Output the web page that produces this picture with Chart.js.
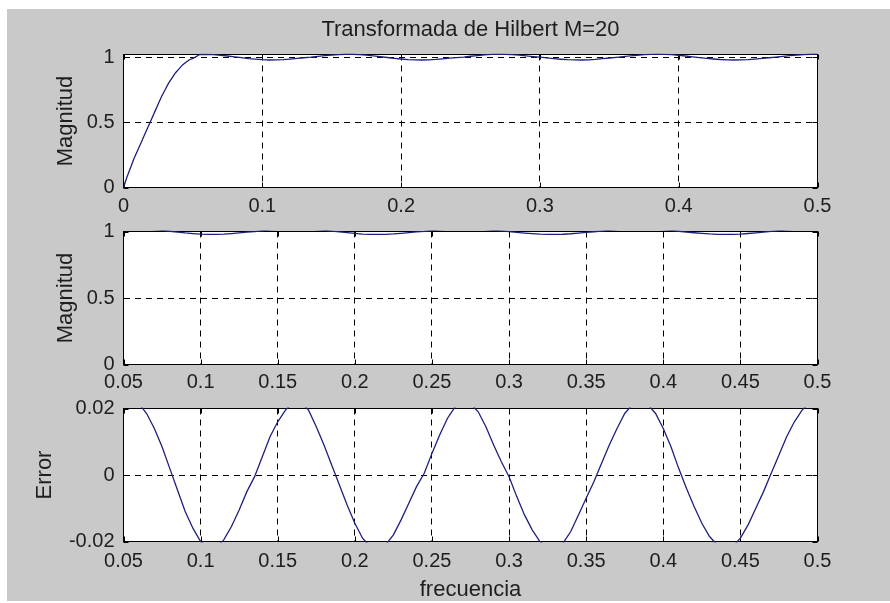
<!DOCTYPE html>
<html><head><meta charset="utf-8">
<script src="https://cdn.jsdelivr.net/npm/chart.js@4.4.1/dist/chart.umd.min.js"></script>
<style>
html,body{margin:0;padding:0;background:#fff;}
#wrap{position:relative;width:890px;height:603px;overflow:hidden;}
#bg{position:absolute;left:7px;top:9px;width:883px;height:592px;background:#c9c9c9;}
canvas{position:absolute;left:0;}
</style></head><body>
<div id="wrap"><div id="bg"></div>
<canvas id="c1" style="top:0px" width="890" height="225"></canvas>
<canvas id="c2" style="top:205px" width="890" height="195"></canvas>
<canvas id="c3" style="top:385px" width="890" height="218"></canvas>
</div>
<script>
// ---- data ----
const titleText = 'Transformada de Hilbert M=20';
const yTitleMag = 'Magnitud';
const yTitleErr = 'Error';
const xTitle = 'frecuencia';

// low-frequency rise (top panel only)
const riseFreq = [0,0.0025,0.005,0.0075,0.01,0.0125,0.015,0.0175,0.02,0.0225,0.025,0.0275,0.03,0.0325,0.035,0.0375,0.04,0.0425,0.045,0.0475,0.05,0.0525,0.055];
const riseMag  = [0,0.08,0.15,0.22,0.28,0.34,0.40,0.46,0.52,0.58,0.64,0.70,0.75,0.80,0.84,0.88,0.91,0.94,0.96,0.98,0.99,1.005,1.02];

const freq = [0.05,0.055,0.06,0.065,0.07,0.075,0.08,0.085,0.09,0.095,0.1,0.105,0.11,0.115,0.12,0.125,0.13,0.135,0.14,0.145,0.15,0.155,0.16,0.165,0.17,0.175,0.18,0.185,0.19,0.195,0.2,0.205,0.21,0.215,0.22,0.225,0.23,0.235,0.24,0.245,0.25,0.255,0.26,0.265,0.27,0.275,0.28,0.285,0.29,0.295,0.3,0.305,0.31,0.315,0.32,0.325,0.33,0.335,0.34,0.345,0.35,0.355,0.36,0.365,0.37,0.375,0.38,0.385,0.39,0.395,0.4,0.405,0.41,0.415,0.42,0.425,0.43,0.435,0.44,0.445,0.45,0.455,0.46,0.465,0.47,0.475,0.48,0.485,0.49,0.495,0.5];

const magnitude = [
1.0215,1.0222,1.0215,1.0185,1.0140,1.0085,1.0020,0.9955,0.9890,0.9840,
0.9800,0.9780,0.9782,0.9805,0.9845,0.9895,0.9950,0.9995,1.0055,1.0115,
1.0160,1.0195,1.0218,1.0220,1.0195,1.0145,1.0090,1.0030,0.9970,0.9910,
0.9855,0.9810,0.9785,0.9778,0.9790,0.9820,0.9865,0.9915,0.9965,1.0005,
1.0065,1.0120,1.0170,1.0205,1.0222,1.0215,1.0190,1.0145,1.0090,1.0040,
0.9995,0.9935,0.9880,0.9835,0.9800,0.9782,0.9778,0.9795,0.9830,0.9880,
0.9930,0.9980,1.0035,1.0090,1.0140,1.0185,1.0212,1.0222,1.0212,1.0185,
1.0140,1.0085,1.0020,0.9960,0.9905,0.9855,0.9815,0.9790,0.9778,0.9785,
0.9810,0.9850,0.9900,0.9950,1.0005,1.0060,1.0115,1.0160,1.0195,1.0218,
1.0222];

const errorVals = [
0.0215,0.0222,0.0215,0.0185,0.0140,0.0085,0.0020,-0.0045,-0.0110,-0.0160,
-0.0200,-0.0220,-0.0218,-0.0195,-0.0155,-0.0105,-0.0050,-0.0005,0.0055,0.0115,
0.0160,0.0195,0.0218,0.0220,0.0195,0.0145,0.0090,0.0030,-0.0030,-0.0090,
-0.0145,-0.0190,-0.0215,-0.0222,-0.0210,-0.0180,-0.0135,-0.0085,-0.0035,0.0005,
0.0065,0.0120,0.0170,0.0205,0.0222,0.0215,0.0190,0.0145,0.0090,0.0040,
-0.0005,-0.0065,-0.0120,-0.0165,-0.0200,-0.0218,-0.0222,-0.0205,-0.0170,-0.0120,
-0.0070,-0.0020,0.0035,0.0090,0.0140,0.0185,0.0212,0.0222,0.0212,0.0185,
0.0140,0.0085,0.0020,-0.0040,-0.0095,-0.0145,-0.0185,-0.0210,-0.0222,-0.0215,
-0.0190,-0.0150,-0.0100,-0.0050,0.0005,0.0060,0.0115,0.0160,0.0195,0.0218,
0.0222];

const xTicksFull  = [0,0.1,0.2,0.3,0.4,0.5];
const xLabelsFull = ['0','0.1','0.2','0.3','0.4','0.5'];
const xTicksZoom  = [0.05,0.1,0.15,0.2,0.25,0.3,0.35,0.4,0.45,0.5];
const xLabelsZoom = ['0.05','0.1','0.15','0.2','0.25','0.3','0.35','0.4','0.45','0.5'];
const yTicksMag   = [0,0.5,1];
const yLabelsMag  = ['0','0.5','1'];
const yTicksErr   = [-0.02,0,0.02];
const yLabelsErr  = ['-0.02','0','0.02'];

// ---- styling ----
const FONT = "'Liberation Sans', Arial, sans-serif";
const TXT = '#1e1e1e';
const LINE = '#1f1f7c';

const frame = {
  id: 'frame',
  beforeDraw(chart) {
    const {ctx, chartArea: a} = chart;
    ctx.save(); ctx.fillStyle = '#fff';
    ctx.fillRect(a.left, a.top, a.right - a.left, a.bottom - a.top);
    ctx.restore();
  },
  beforeDatasetsDraw(chart) {
    const {ctx, chartArea: a, scales: {x, y}} = chart;
    ctx.save(); ctx.strokeStyle = '#000'; ctx.lineWidth = 1; ctx.setLineDash([]);
    ctx.strokeRect(a.left, a.top, a.right - a.left, a.bottom - a.top);
    ctx.beginPath();
    x.ticks.forEach(t => { const p = Math.round(x.getPixelForValue(t.value)) + 0.5;
      ctx.moveTo(p, a.bottom); ctx.lineTo(p, a.bottom - 5);
      ctx.moveTo(p, a.top); ctx.lineTo(p, a.top + 5); });
    y.ticks.forEach(t => { const p = Math.round(y.getPixelForValue(t.value)) + 0.5;
      ctx.moveTo(a.left, p); ctx.lineTo(a.left + 5, p);
      ctx.moveTo(a.right, p); ctx.lineTo(a.right - 5, p); });
    ctx.stroke(); ctx.restore();
  }
};

function xAxis(ticks, labels, fitH, pad, title) {
  return {
    type: 'linear', position: 'bottom', min: ticks[0], max: ticks[ticks.length - 1],
    afterBuildTicks: s => { s.ticks = ticks.map(v => ({value: v})); },
    afterFit: s => { s.height = fitH; },
    grid: {color: '#000', lineWidth: 1, drawTicks: false},
    border: {display: false, dash: [6, 5]},
    ticks: {autoSkip: false, maxRotation: 0, minRotation: 0, padding: pad, color: TXT,
            font: {family: FONT, size: 20}, callback: (v, i) => labels[i]},
    title: title ? {display: true, text: title, color: TXT, font: {family: FONT, size: 22},
                    padding: {top: 0, bottom: 0}} : {display: false}
  };
}
function yAxis(ticks, labels, min, max, title, tpad) {
  return {
    type: 'linear', position: 'left', min: min, max: max,
    afterBuildTicks: s => { s.ticks = ticks.map(v => ({value: v})); },
    afterFit: s => { s.width = 123.5; },
    grid: {color: '#000', lineWidth: 1, drawTicks: false},
    border: {display: false, dash: [6, 5]},
    ticks: {autoSkip: false, padding: 9, color: TXT, font: {family: FONT, size: 20},
            callback: (v, i) => labels[i]},
    title: {display: true, text: title, color: TXT, font: {family: FONT, size: 22},
            padding: {top: tpad, bottom: 0}}
  };
}
function makeChart(id, pts, xs, ys, padTop, title) {
  return new Chart(document.getElementById(id), {
    type: 'line',
    data: {datasets: [{data: pts, borderColor: LINE, borderWidth: 1.3, pointRadius: 0,
                       fill: false, tension: 0, clip: {left: 0, right: 0, top: 1, bottom: 1}}]},
    options: {
      responsive: false, animation: false, devicePixelRatio: 1, parsing: false,
      layout: {padding: {top: padTop, right: 72.5, left: 0, bottom: 0}},
      scales: {x: xs, y: ys},
      plugins: {
        legend: {display: false}, tooltip: {enabled: false},
        title: title ? {display: true, text: title, fullSize: false, color: TXT,
                        font: {family: FONT, size: 22, weight: 'normal'},
                        padding: {top: 16.6, bottom: 11.5}} : {display: false}
      }
    },
    plugins: [frame]
  });
}

const pts1 = riseFreq.map((f, i) => ({x: f, y: riseMag[i]}))
  .concat(freq.slice(2).map((f, i) => ({x: f, y: magnitude[i + 2]})));
const pts2 = freq.map((f, i) => ({x: f, y: magnitude[i]}));
const pts3 = freq.map((f, i) => ({x: f, y: errorVals[i]}));

makeChart('c1', pts1, xAxis(xTicksFull, xLabelsFull, 37.5, 7, null),
          yAxis(yTicksMag, yLabelsMag, 0, 1.02, yTitleMag, 52.5), 0, titleText);
makeChart('c2', pts2, xAxis(xTicksZoom, xLabelsZoom, 35.5, 6, null),
          yAxis(yTicksMag, yLabelsMag, 0, 1, yTitleMag, 52.5), 26.5, null);
makeChart('c3', pts3, xAxis(xTicksZoom, xLabelsZoom, 61.5, 8, xTitle),
          yAxis(yTicksErr, yLabelsErr, -0.02, 0.02, yTitleErr, 31.8), 23.5, null);
</script>
</body></html>
